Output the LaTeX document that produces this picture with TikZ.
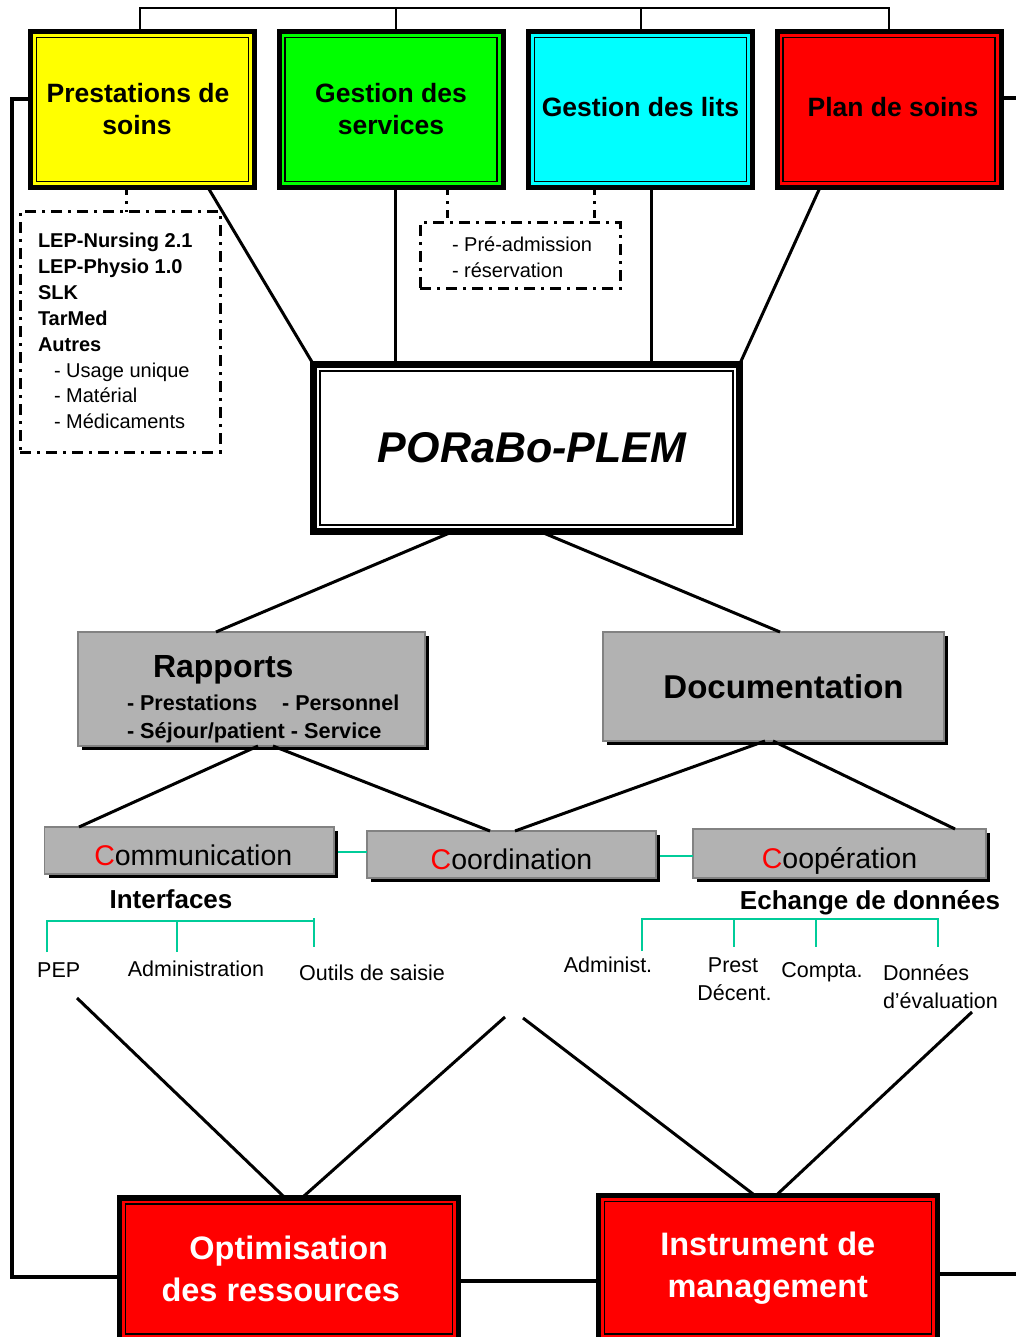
\documentclass[tikz,border=0pt]{standalone}
\usepackage{fontspec}
\setmainfont{Liberation Sans}
\usetikzlibrary{shadows}
\definecolor{boxgray}{RGB}{178,178,178}
\definecolor{edgegray}{RGB}{130,130,130}
\definecolor{tealgreen}{RGB}{0,204,153}
\definecolor{pureyellow}{RGB}{255,255,0}
\definecolor{puregreen}{RGB}{0,255,0}
\definecolor{purecyan}{RGB}{0,255,255}
\definecolor{purered}{RGB}{255,0,0}
\newcommand\fsz[2]{\fontsize{#1}{#2}\selectfont}
\begin{document}
\begin{tikzpicture}[x=1pt,y=-1pt,
  every node/.style={inner sep=0pt, outer sep=0pt},
  topbox/.style={draw, line width=5pt, minimum width=224pt, minimum height=156pt, align=center, font=\fsz{26.5}{32}\bfseries},
  corebox/.style={draw, line width=7pt, fill=white, minimum width=426pt, minimum height=167pt, font=\fsz{43}{50}\bfseries\itshape},
  botbox/.style={draw, line width=5.5pt, fill=purered, minimum width=339pt, align=center, text=white, font=\fsz{32.5}{42}\bfseries},
  dashbox/.style={draw, line width=3pt, dash pattern=on 11pt off 6pt on 3pt off 6pt},
  dashlink/.style={line width=3pt, dash pattern=on 8pt off 6pt on 3pt off 6pt},
  graybox/.style={draw=edgegray, line width=1.5pt, fill=boxgray, general shadow={fill=black, shadow xshift=4pt, shadow yshift=-4pt}},
  cbox/.style={graybox, text height=29pt, text depth=0pt, font=\fsz{28.5}{34}},
  link/.style={line width=3pt},
  bus/.style={line width=2pt},
  frame/.style={line width=3.5pt},
  glink/.style={draw=tealgreen, line width=2pt},
  lbl/.style={anchor=base, font=\fsz{21.5}{28}},
  lblw/.style={anchor=base west, font=\fsz{21.5}{28}},
  hdr/.style={anchor=base, font=\fsz{26}{30}\bfseries},
]
\useasboundingbox (0,0) rectangle (1015,1337);

% top boxes
\node[topbox, fill=pureyellow] (ps) at (142.5,109.5) {Prestations de\hspace*{9pt}\\soins\hspace*{11pt}};
\node[topbox, fill=puregreen] (gs) at (391,109.5) {Gestion des\\services};
\node[topbox, fill=purecyan] (gl) at (640.5,109.5) {\raisebox{6pt}{Gestion des lits}};
\node[topbox, fill=purered] (pl) at (889,109.5) {\raisebox{6pt}{\hspace*{8pt}Plan de soins}};

% core
\node[corebox] (core) at (526.5,448) {\hspace*{11pt}PORaBo-PLEM};

% bottom boxes
\node[botbox, minimum height=142.25pt] (opt) at (288.75,1268.9) {Optimisation\\des ressources\hspace*{16pt}};
\node[botbox, minimum height=144.5pt] (ins) at (767.75,1267.75) {Instrument de\\management};

\foreach \n in {ps,gs,gl,pl,opt,ins}
  \draw[line width=1.5pt] ([shift={(6pt,-6pt)}]\n.north west) rectangle ([shift={(-6pt,6pt)}]\n.south east);
\draw[line width=1.5pt] ([shift={(6.5pt,-6.5pt)}]core.north west) rectangle ([shift={(-6.5pt,6.5pt)}]core.south east);

% dashed boxes
\node[dashbox, minimum width=200pt, minimum height=240pt] (lep) at (120,332) {};
\node[anchor=west, align=left, font=\fsz{20}{25.9}] (leptxt) at (38,331)
  {\textbf{LEP-Nursing 2.1}\\\textbf{LEP-Physio 1.0}\\\textbf{SLK}\\\textbf{TarMed}\\\textbf{Autres}\\
   \hspace*{16pt}- Usage unique\\\hspace*{16pt}- Matérial\\\hspace*{16pt}- Médicaments};
\node[dashbox, minimum width=200pt, minimum height=66pt] (adm) at (520,256) {};
\node[anchor=west, align=left, font=\fsz{20}{26}] (admtxt) at (452,257) {- Pré-admission\\- réservation};

% gray boxes
\node[graybox, minimum width=347pt, minimum height=114pt] (rap) at (251.5,689) {};
\node[anchor=base west, font=\fsz{32}{36}\bfseries] (raptitle) at (153,677.5) {Rapports};
\node[anchor=base west, font=\fsz{21.5}{26}\bfseries] (rapl1) at (127,710.7) {- Prestations\hspace*{19pt} - Personnel};
\node[anchor=base west, font=\fsz{21.7}{26}\bfseries] (rapl2) at (127,738.3) {- Séjour/patient - Service};
\node[graybox, minimum width=341pt, minimum height=109pt, font=\fsz{33}{38}\bfseries] (doc) at (773.5,686.5) {\hspace*{20pt}Documentation};

\node[cbox, minimum width=289.5pt, minimum height=47pt] (com) at (189.25,850.5) {\hspace*{8pt}\textcolor{purered}{C}ommunication};
\node[cbox, minimum width=289pt, minimum height=47pt] (coo) at (511.5,854.5) {\textcolor{purered}{C}oordination};
\node[cbox, minimum width=293pt, minimum height=49pt] (cop) at (839.5,853.5) {\textcolor{purered}{C}oopération};

% labels
\node[hdr] (ifc) at (171,908.3) {Interfaces};
\node[hdr] (ech) at (870,909.3) {Echange de données};
\node[lbl] (pep) at (58.75,977.7) {PEP};
\node[lbl] (admn) at (196,976.7) {Administration};
\node[lbl] (outil) at (372,980.7) {Outils de saisie};
\node[lbl] (admi) at (608,972.7) {Administ.};
\node[lbl] (prest1) at (733,972.7) {Prest};
\node[lbl] (prest2) at (734.5,1000.7) {Décent.};
\node[lbl] (compta) at (822,977.7) {Compta.};
\node[lblw] (donn1) at (883,980.7) {Données};
\node[lblw] (donn2) at (883,1008.7) {d’évaluation};

% brackets
\coordinate (ia) at (47,952); \coordinate (ib) at (47,921); \coordinate (ic) at (314,921);
\coordinate (id) at (177,921); \coordinate (ie) at (177,952); \coordinate (if) at (314,918); \coordinate (ig) at (314,947);
\draw[glink] (ia) -- (ib) -- (ic);
\draw[glink] (id) -- (ie);
\draw[glink] (if) -- (ig);
\coordinate (ea) at (641.7,951); \coordinate (eb) at (641.7,918.7); \coordinate (ec) at (937.7,918.7); \coordinate (ed) at (937.7,947);
\coordinate (ee) at (734,918.7); \coordinate (ef) at (734,947); \coordinate (eg) at (816,918.7); \coordinate (eh) at (816,947);
\draw[glink] (ea) -- (eb) -- (ec) -- (ed);
\draw[glink] (ee) -- (ef);
\draw[glink] (eg) -- (eh);

% green links
\draw[glink] (com.east |- 0,852) ++(4,0) -- (coo.west |- 0,852);
\draw[glink] (coo.east |- 0,856) ++(4,0) -- (cop.west |- 0,856);

% top bus
\draw[bus] (ps.north -| 140,0) -- (140,8) -- (pl.north |- 0,8) -- (pl.north);
\draw[bus] (gs.north -| 396,0) -- (396,8);
\draw[bus] (gl.north -| 641,0) -- (641,8);

% connectors to core
\draw[link] (ps.south -| 208,0) -- (core.north west);
\draw[link] (gs.south -| 395,0) -- (core.north -| 395,0);
\draw[link] (gl.south -| 651,0) -- (core.north -| 651,0);
\draw[link] (pl.south -| 820,0) -- (core.north east);

% dashed stubs
\draw[dashlink] (ps.south -| 126,0) -- (lep.north -| 126,0);
\draw[dashlink] (gs.south -| 447,0) -- (adm.north -| 447,0);
\draw[dashlink] (gl.south -| 594,0) -- (adm.north -| 594,0);

% core to rapports / documentation
\draw[link] (core.south -| 453,0) -- (rap.north -| 216,0);
\draw[link] (core.south -| 540,0) -- (doc.north -| 780,0);
\draw[link] (rap.south -| 258,0) -- (com.north -| 79,0);
\draw[link] (rap.south -| 273,0) -- (coo.north -| 490,0);
\draw[link] (doc.south -| 765,0) -- (coo.north -| 515,0);
\draw[link] (doc.south -| 773,0) -- (cop.north -| 955,0);

% lines to bottom boxes
\coordinate (l1) at (77,998); \coordinate (l2) at (505,1017);
\coordinate (l3) at (523,1018); \coordinate (l4) at (972,1012);
\draw[link] (l1) -- (opt.north -| 285,0);
\draw[link] (l2) -- (opt.north -| 302,0);
\draw[link] (l3) -- (ins.north -| 755,0);
\draw[link] (l4) -- (ins.north -| 776,0);

% frame lines
\draw[frame] (ps.west |- 0,99) -- (12,99) -- (12,1277) -- (opt.west |- 0,1277);
\draw[frame] (pl.east |- 0,98) -- (1020,98);
\draw[frame] (opt.east |- 0,1281) -- (ins.west |- 0,1281);
\draw[frame] (ins.east |- 0,1274) -- (1020,1274);
\end{tikzpicture}
\end{document}
